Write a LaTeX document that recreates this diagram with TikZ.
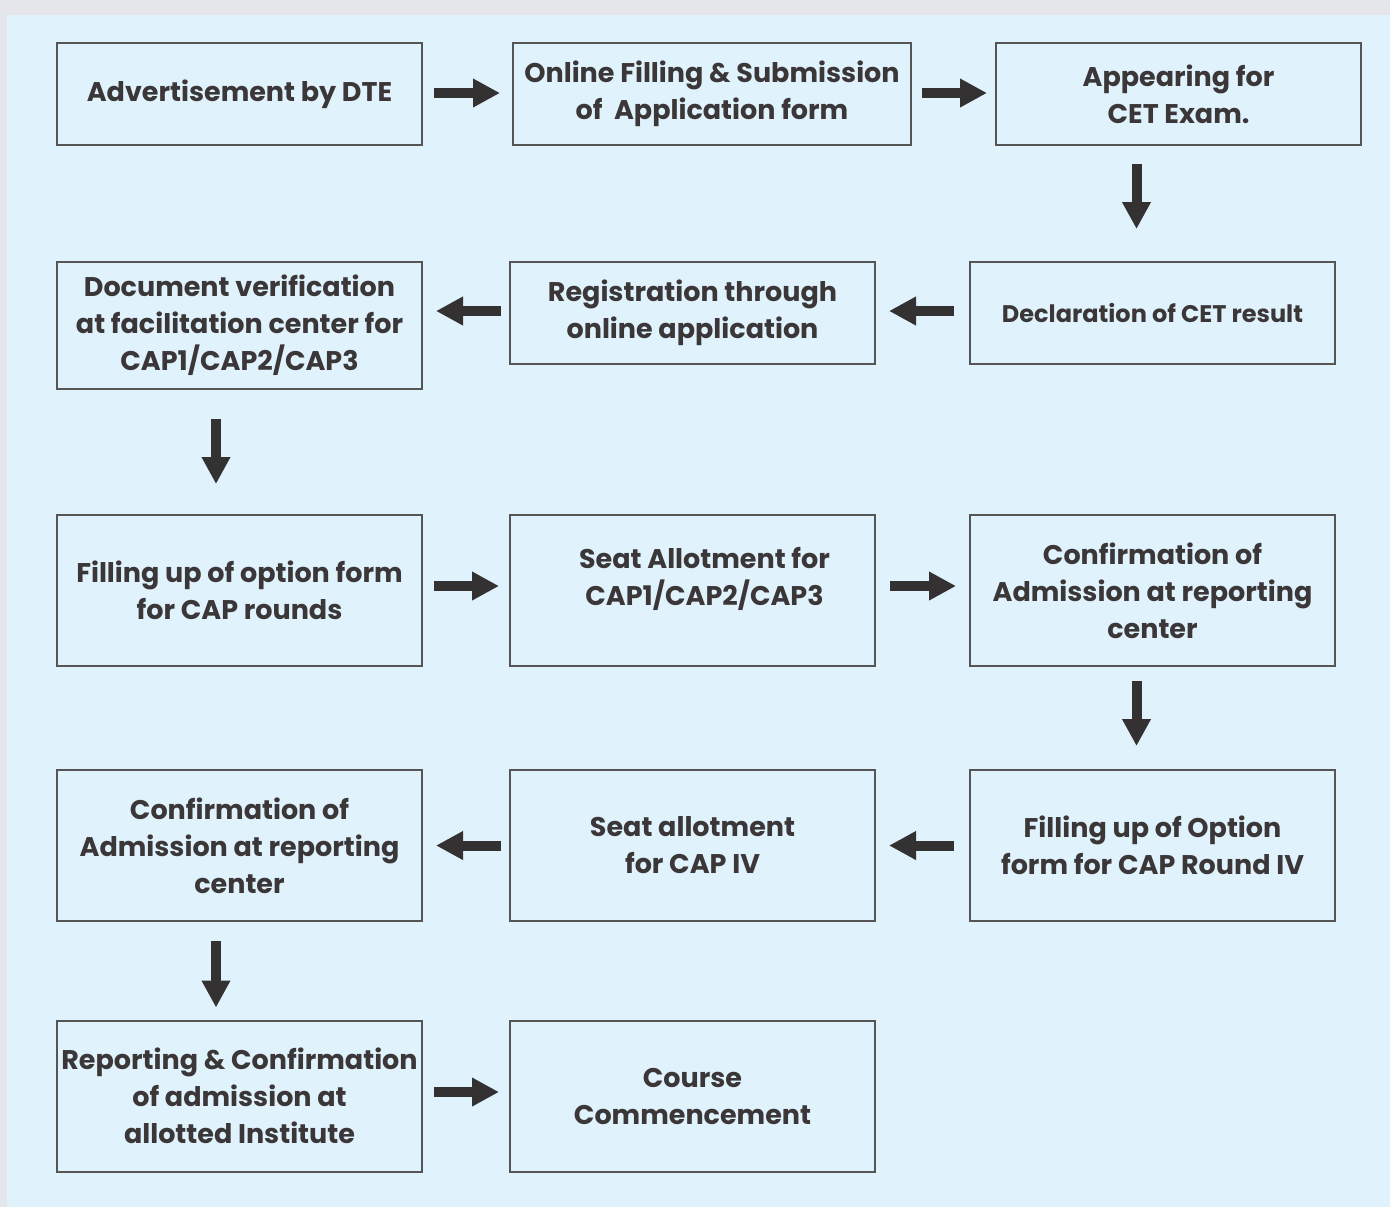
\documentclass[tikz,border=0pt]{standalone}
\usepackage{xcolor}
\usepackage{fontspec}
\setmainfont{Poppins}
\usepackage{tikz}
\usetikzlibrary{calc}
\usetikzlibrary{arrows.meta}

\definecolor{pagegrey}{HTML}{E5E6EB}
\definecolor{paleblue}{HTML}{E0F2FC}
\definecolor{boxline}{HTML}{555555}
\definecolor{inkgrey}{HTML}{3B3738}
\definecolor{arrowgrey}{HTML}{333132}

\tikzset{
	stepbox/.style={rectangle, draw=boxline, line width=1pt, inner sep=0pt, align=center,
		text=inkgrey, font=\bfseries\fontsize{13.5}{18.5}\selectfont,
		minimum width=182.5pt, minimum height=75.5pt},
	flow/.style={draw=arrowgrey, line width=5pt, -{Triangle[length=13.5pt, width=13.5pt]},
		shorten <=5.5pt, shorten >=6pt}
}

\begin{document}
\begin{tikzpicture}[x=0.5pt, y=-0.5pt]
			%background
			\useasboundingbox (0,0) rectangle (1390,1207);
			\fill [pagegrey] (0,0) rectangle (1390,1207);
			\fill [paleblue] (7,15) rectangle (1390,1207);

			%row 1
			\node at (239.5,94) (adv) [stepbox, minimum height=51pt] {Advertisement by DTE};
			\node at (712,94) (apply) [stepbox, minimum width=199pt, minimum height=51pt] {Online Filling \& Submission\\of~ Application form};
			\node at (1178.5,94) (exam) [stepbox, minimum height=51pt] {Appearing for\\CET Exam.};
			%row 2
			\node at (1152.5,313) (result) [stepbox, minimum height=51pt, font=\bfseries\fontsize{12}{18.5}\selectfont] {Declaration of CET result};
			\node at (692.5,313) (regist) [stepbox, minimum height=51pt] {Registration through\\online application};
			\node at (239.5,325.5) (verify) [stepbox, minimum height=63.5pt] {Document verification\\at facilitation center for\\CAP1/CAP2/CAP3};
			%row 3
			\node at (239.5,590.5) (option) [stepbox] {Filling up of option form\\for CAP rounds};
			\node at (692.5,590.5) (allot) [stepbox] {\hspace*{12pt}\raisebox{5.5pt}[\height][\depth]{\begin{tabular}{@{}c@{}}Seat Allotment for\\CAP1/CAP2/CAP3\end{tabular}}};
			\node at (1152.5,590.5) (confirm) [stepbox] {Confirmation of\\Admission at reporting\\center};
			%row 4
			\node at (1152.5,845.5) (optfour) [stepbox] {Filling up of Option\\form for CAP Round IV};
			\node at (692.5,845.5) (allotfour) [stepbox] {Seat allotment\\for CAP IV};
			\node at (239.5,845.5) (confirmfour) [stepbox] {Confirmation of\\Admission at reporting\\center};
			%row 5
			\node at (239.5,1096) (report) [stepbox] {Reporting \& Confirmation\\of admission at\\allotted Institute};
			\node at (692.5,1096) (course) [stepbox] {Course\\Commencement};

			%arrows
			\draw [flow] ([yshift=0.5pt]adv.east) -- ([yshift=0.5pt]adv.east -| apply.west);
			\draw [flow, shorten <=5pt, shorten >=4pt] ([yshift=0.5pt]apply.east) -- ([yshift=0.5pt]apply.east -| exam.west);
			\draw [flow, shorten <=9pt, shorten >=16pt] ([xshift=-8pt]result.north |- exam.south) -- ([xshift=-8pt]result.north);
			\draw [flow, shorten <=7.5pt, shorten >=6.5pt] ([yshift=1pt]result.west) -- ([yshift=1pt]result.west -| regist.east);
			\draw [flow, shorten <=4pt, shorten >=6.5pt] ([yshift=1pt]regist.west) -- ([yshift=1pt]regist.west -| verify.east);
			\draw [flow, shorten <=14.5pt, shorten >=15pt] ([xshift=-11.75pt]verify.south) -- ([xshift=-11.75pt]verify.south |- option.north);
			\draw [flow, shorten >=5pt] ([yshift=2.25pt]option.east) -- ([yshift=2.25pt]allot.west);
			\draw [flow, shorten <=7pt, shorten >=6.5pt] ([yshift=2.25pt]allot.east) -- ([yshift=2.25pt]confirm.west);
			\draw [flow, shorten <=7pt, shorten >=11.5pt] ([xshift=-8pt]confirm.south) -- ([xshift=-8pt]confirm.south |- optfour.north);
			\draw [flow, shorten <=7.5pt, shorten >=6.5pt] (optfour.west) -- (allotfour.east);
			\draw [flow, shorten <=4pt, shorten >=6.5pt] (allotfour.west) -- (confirmfour.east);
			\draw [flow, shorten <=9.5pt, shorten >=6pt] ([xshift=-11.75pt]confirmfour.south) -- ([xshift=-11.75pt]report.north);
			\draw [flow, shorten >=5pt] ([yshift=2pt]report.east) -- ([yshift=2pt]course.west);
		\end{tikzpicture}
\end{document}
